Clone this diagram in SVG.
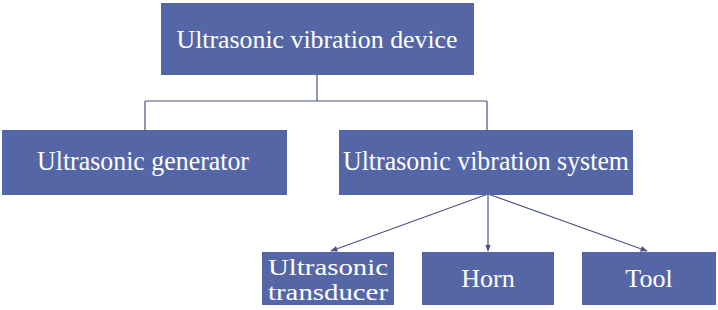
<svg xmlns="http://www.w3.org/2000/svg" width="718" height="310" viewBox="0 0 718 310">
<defs>
<style>
.box{fill:#5566a6;}
.t{fill:#ffffff;text-anchor:middle;}
.c{stroke:#4a5482;stroke-width:1.2;fill:none;}
</style>
<marker id="ah" viewBox="0 0 10 10" refX="9" refY="5" markerWidth="6" markerHeight="6" orient="auto">
<path d="M0,1 L10,5 L0,9 Z" fill="#4a5482"/>
</marker>
</defs>
<rect width="718" height="310" fill="#ffffff"/>
<g id="connectors">
<path class="c" d="M317,75 V101 M145,101 H487 M145,101 V130 M487,101 V130"/>
<path class="c" d="M488,194 L331,251" marker-end="url(#ah)"/>
<path class="c" d="M488,194 L488,251" marker-end="url(#ah)"/>
<path class="c" d="M488,194 L647,251" marker-end="url(#ah)"/>
</g>
<g font-family="Liberation Serif, DejaVu Serif, serif">
<g id="device">
<rect class="box" x="161" y="3" width="313" height="72"/>
<text class="t" x="317" y="48" font-size="25" textLength="281" lengthAdjust="spacingAndGlyphs">Ultrasonic vibration device</text>
</g>
<g id="generator">
<rect class="box" x="2" y="130" width="285" height="65"/>
<text class="t" x="143" y="170" font-size="28" textLength="212" lengthAdjust="spacingAndGlyphs">Ultrasonic generator</text>
</g>
<g id="system">
<rect class="box" x="339" y="130" width="294" height="65"/>
<text class="t" x="486" y="170" font-size="28" textLength="286" lengthAdjust="spacingAndGlyphs">Ultrasonic vibration system</text>
</g>
<g id="transducer">
<rect class="box" x="262" y="252" width="132" height="53"/>
<text class="t" x="328" y="275" font-size="24" textLength="120" lengthAdjust="spacingAndGlyphs">Ultrasonic</text>
<text class="t" x="328" y="300" font-size="24" textLength="120" lengthAdjust="spacingAndGlyphs">transducer</text>
</g>
<g id="horn">
<rect class="box" x="422" y="252" width="132" height="53"/>
<text class="t" x="488" y="287" font-size="26">Horn</text>
</g>
<g id="tool">
<rect class="box" x="582" y="252" width="134" height="53"/>
<text class="t" x="649" y="287" font-size="26">Tool</text>
</g>
</g>
</svg>
